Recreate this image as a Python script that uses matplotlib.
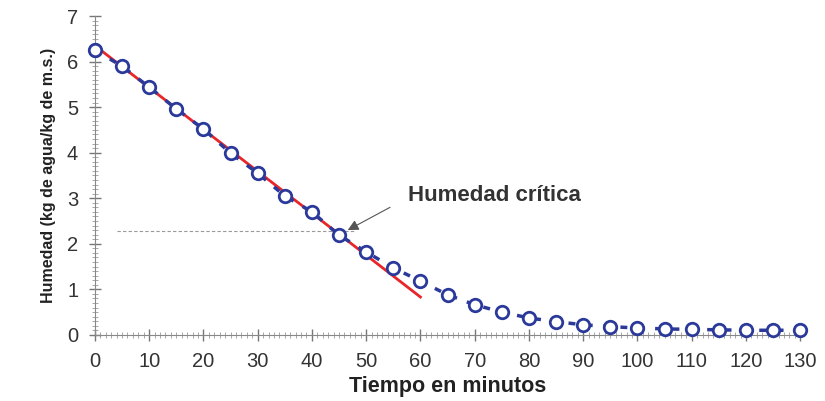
import matplotlib.pyplot as plt
from matplotlib.ticker import MultipleLocator

tiempo = [0, 5, 10, 15, 20, 25, 30, 35, 40, 45, 50, 55, 60, 65,
          70, 75, 80, 85, 90, 95, 100, 105, 110, 115, 120, 125, 130]
humedad = [6.25, 5.90, 5.44, 4.96, 4.52, 3.99, 3.55, 3.05, 2.70, 2.19,
           1.82, 1.47, 1.18, 0.88, 0.66, 0.50, 0.37, 0.29, 0.22, 0.18,
           0.15, 0.13, 0.12, 0.11, 0.10, 0.10, 0.10]
recta_x = [0, 60]
recta_y = [6.35, 0.83]
humedad_critica = 2.27

plt.rcParams['font.family'] = ['Liberation Sans', 'DejaVu Sans']

fig = plt.figure(figsize=(8.25, 4.01), dpi=100)
ax = fig.add_axes([0.115, 0.165, 0.855, 0.795])

ax.plot(recta_x, recta_y, color='#e8262a', lw=2, zorder=2)
ax.plot(tiempo, humedad, color='#2b3a9a', lw=2.5, ls=(0, (2, 3)),
        marker='o', ms=9, mfc='white', mec='#2b3a9a', mew=2,
        clip_on=False, zorder=3)
ax.plot([4, 48], [humedad_critica, humedad_critica], color='#999999',
        lw=0.8, ls=(0, (3, 2)), zorder=1)

ax.text(57.8, 3.07, 'Humedad crítica', fontsize=16, fontweight='bold',
        color='#333333', va='center', ha='left')
ax.annotate('', xy=(46.6, 2.30), xytext=(54.4, 2.80),
            arrowprops=dict(arrowstyle='-|>', color='#555555', lw=0.8,
                            shrinkA=0, shrinkB=0, mutation_scale=16))

ax.set_xlim(0, 130)
ax.set_ylim(0, 7)
ax.xaxis.set_major_locator(MultipleLocator(10))
ax.xaxis.set_minor_locator(MultipleLocator(1))
ax.yaxis.set_major_locator(MultipleLocator(1))
ax.yaxis.set_minor_locator(MultipleLocator(0.1))
ax.tick_params(which='major', direction='inout', length=8, width=1,
               color='#777777', labelsize=14.5, labelcolor='#333333', pad=8)
ax.tick_params(which='minor', direction='inout', length=4, width=0.6,
               color='#999999')
for s in ['top', 'right']:
    ax.spines[s].set_visible(False)
for s in ['left', 'bottom']:
    ax.spines[s].set_color('#888888')

ax.set_xlabel('Tiempo en minutos', fontsize=15.5, fontweight='bold',
              color='#222222', labelpad=4)
ax.set_ylabel('Humedad (kg de agua/kg de m.s.)', fontsize=11.5,
              fontweight='bold', color='#222222', labelpad=8)

fig.savefig('out.png', dpi=100)
